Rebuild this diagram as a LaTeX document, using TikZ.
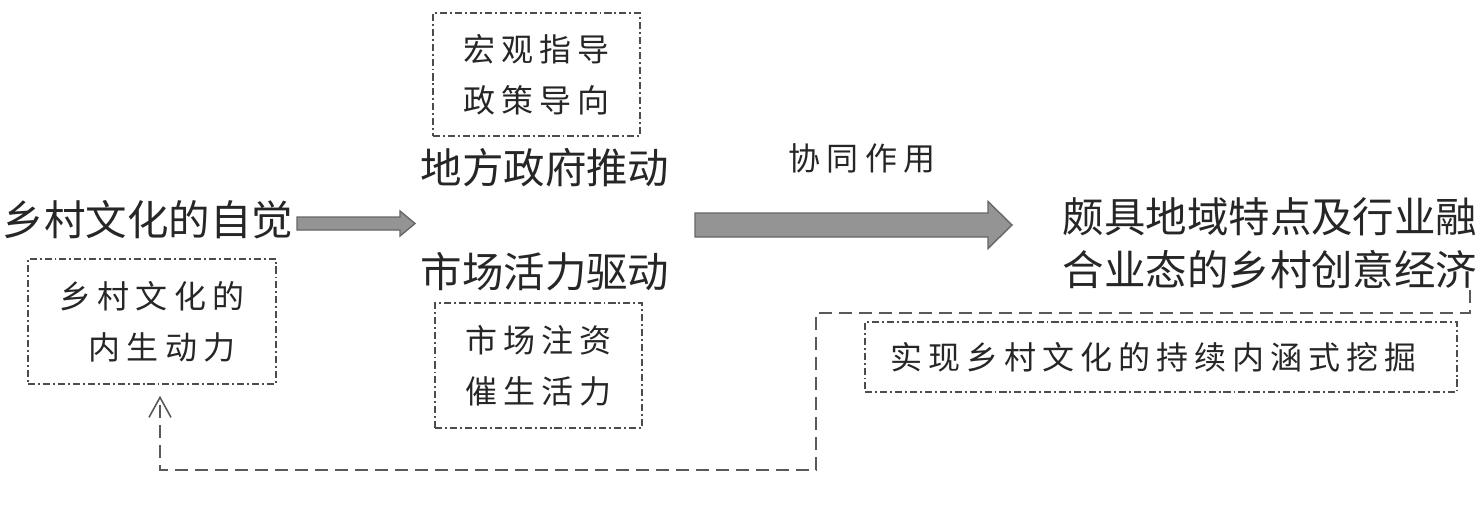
\documentclass[tikz,border=0pt]{standalone}
\usepackage{fontspec}
\newfontfamily\cjk{Noto Sans CJK SC}
\newfontfamily\cjksp[LetterSpace=19]{Noto Sans CJK SC}
\usetikzlibrary{arrows.meta, calc, positioning}

\tikzset{
  bigtext/.style={font=\cjk\fontsize{23.6}{30}\selectfont, text=black!85, inner sep=0pt},
  smalltext/.style={font=\cjksp\fontsize{18.2}{29}\selectfont, text=black!85, inner sep=0pt},
  dotbox/.style={draw=black!70, line width=0.85pt, dash pattern=on 4pt off 1.7pt on 1.1pt off 1.7pt, smalltext, align=center},
  loopline/.style={draw=black!65, line width=1.1pt, dash pattern=on 7.4pt off 4pt},
  fatarrow/.style={fill=black!42, draw=black!60, line width=0.8pt},
}
% 粗箭头：起点，终点，半杆宽，半头宽，头长
\newcommand{\fatarrow}[5]{%
  \draw[fatarrow] ($(#1)+(0,-#3)$) -- ($(#2)+(-#5,-#3)$) -- ($(#2)+(-#5,-#4)$) -- (#2)
    -- ($(#2)+(-#5,#4)$) -- ($(#2)+(-#5,#3)$) -- ($(#1)+(0,#3)$) -- cycle;}

\begin{document}
\begin{tikzpicture}[x=0.02cm, y=-0.02cm]
  \useasboundingbox (0,0) rectangle (1484,514);
  % 左侧
  \node[bigtext] (self) at (148,220) {乡村文化的自觉};
  \node[dotbox, minimum width=4.96cm, minimum height=2.5cm] (inner) at (152,321.5) {乡村文化的\\\hspace*{0.4cm}内生动力};
  % 中间
  \node[dotbox, minimum width=4.14cm, minimum height=2.46cm] (macro) at (536.5,74.5) {宏观指导\\政策导向};
  \node[bigtext] (gov) at (545,168) {地方政府推动};
  \node[bigtext] (mkt) at (545,272) {市场活力驱动};
  \node[dotbox, minimum width=4.14cm, minimum height=2.5cm] (inject) at (538.5,365.5) {市场注资\\催生活力};
  \node[smalltext] (synergy) at (862,158) {协同作用};
  % 右侧
  \node[bigtext, align=center] (econ) at (1270,243) {颇具地域特点及行业融\\合业态的乡村创意经济};
  \node[dotbox, minimum width=11.84cm, minimum height=1.4cm] (dig) at (1161,357) {实现乡村文化的持续内涵式挖掘\hspace*{0.3cm}};
  % 箭头
  \coordinate (a1s) at (297,223.5);
  \coordinate (a1e) at (415,223.5);
  \fatarrow{a1s}{a1e}{6.5}{12.5}{15}
  \coordinate (a2s) at (695,225);
  \coordinate (a2e) at (1012,225);
  \fatarrow{a2s}{a2e}{12}{23.5}{24}
  % 反馈
  \coordinate (fbstart) at (1470,290);
  \coordinate (fbbot) at (816,470);
  \coordinate (fbtip) at ($(inner.south)+(8,0)$);
  \draw[loopline, -{Straight Barb[length=0.4cm, width=0.44cm, line width=0.9pt]}, shorten >=0.22cm]
    (fbstart) -- (1470,313) -- (fbbot |- 0,313) -- (fbbot) -- (fbtip |- fbbot) -- (fbtip);
\end{tikzpicture}
\end{document}
